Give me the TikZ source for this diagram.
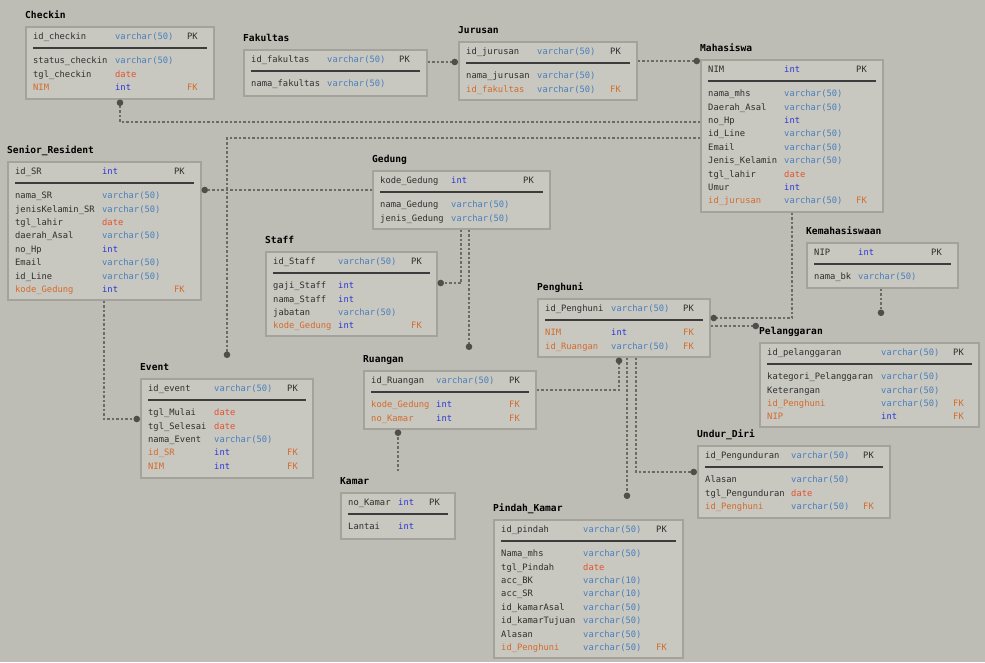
\documentclass[tikz,border=0pt]{standalone}
\usepackage{fontspec}
\setmonofont{DejaVu Sans Mono}
\usetikzlibrary{positioning, calc, arrows.meta}

\definecolor{bgcol}{HTML}{BDBDB5}
\definecolor{boxfill}{HTML}{C8C8C0}
\definecolor{boxline}{HTML}{A3A39C}
\definecolor{textdark}{HTML}{2E2E2E}
\definecolor{sepcol}{HTML}{3C3C3C}
\definecolor{vcol}{HTML}{4A7EBB}
\definecolor{icol}{HTML}{2A35D6}
\definecolor{dcol}{HTML}{E4502D}
\definecolor{fkcol}{HTML}{D46A2C}
\definecolor{linecol}{HTML}{6A6A66}
\definecolor{dotcol}{HTML}{4E4E4B}

\newcommand{\tvar}[1]{\textcolor{vcol}{varchar(#1)}}
\newcommand{\tint}{\textcolor{icol}{int}}
\newcommand{\tdate}{\textcolor{dcol}{date}}
\newcommand{\tfk}[1]{\textcolor{fkcol}{#1}}

\tikzset{
    tbl/.style={draw=boxline, line width=1.5pt, fill=boxfill, anchor=north west, inner sep=0pt},
    ttl/.style={anchor=west, inner sep=0pt, text height=7pt, text depth=2pt, text=black,
        font=\ttfamily\bfseries\fontsize{9.6}{11}\selectfont},
    fld/.style={anchor=west, inner sep=0pt, text height=6pt, text depth=1.5pt, text=textdark,
        font=\ttfamily\fontsize{8.8}{10}\selectfont},
    sepline/.style={draw=sepcol, line width=1.4pt},
    rel/.style={draw=linecol, line width=1.1pt, dash pattern=on 2.5pt off 2pt,
        -{Circle[length=6.5pt, fill=dotcol, color=dotcol]}}
}

% name, x, y, width, height, title, type column, key column, rows
\newcommand{\ertable}[9]{%
    \node[tbl, minimum width=#4pt, minimum height=#5pt] (#1) at (#2,#3) {};
    \node[ttl] (#1-title) at (#2,#3-10) {#6};
    \draw[sepline] ($(#1.north west)+(8,22)$) -- ($(#1.north east)+(-8,22)$);
    \foreach \nm/\ty/\ky [count=\i from 0] in {#9} {
        \pgfmathsetmacro\ry{#3+11.5+13.4*\i+10.5*(\i>0)}
        \node[fld] (#1-\i) at (#2+8,\ry) {\nm};
        \node[fld] (#1-\i-t) at (#2+#7,\ry) {\ty};
        \node[fld] (#1-\i-k) at (#2+#8,\ry) {\ky};
    }
}

\begin{document}
\begin{tikzpicture}[x=1pt, y=-1pt]
    \useasboundingbox (0,0) rectangle (985,662);
    \fill[bgcol] (0,0) rectangle (985,662);

    \ertable{checkin}{25}{26}{188}{72}{Checkin}{90}{162}{%
        id\_checkin/\tvar{50}/PK, status\_checkin/\tvar{50}/{}, tgl\_checkin/\tdate/{},
        \tfk{NIM}/\tint/\tfk{FK}}
    \ertable{fakultas}{243}{49}{183}{46}{Fakultas}{84}{156}{%
        id\_fakultas/\tvar{50}/PK, nama\_fakultas/\tvar{50}/{}}
    \ertable{jurusan}{458}{41}{178}{58}{Jurusan}{79}{152}{%
        id\_jurusan/\tvar{50}/PK, nama\_jurusan/\tvar{50}/{}, \tfk{id\_fakultas}/\tvar{50}/\tfk{FK}}
    \ertable{mahasiswa}{700}{59}{182}{152}{Mahasiswa}{84}{156}{%
        NIM/\tint/PK, nama\_mhs/\tvar{50}/{}, Daerah\_Asal/\tvar{50}/{}, no\_Hp/\tint/{},
        id\_Line/\tvar{50}/{}, Email/\tvar{50}/{}, Jenis\_Kelamin/\tvar{50}/{},
        tgl\_lahir/\tdate/{}, Umur/\tint/{}, \tfk{id\_jurusan}/\tvar{50}/\tfk{FK}}
    \ertable{sr}{7}{161}{193}{138}{Senior\_Resident}{95}{167}{%
        id\_SR/\tint/PK, nama\_SR/\tvar{50}/{}, jenisKelamin\_SR/\tvar{50}/{},
        tgl\_lahir/\tdate/{}, daerah\_Asal/\tvar{50}/{}, no\_Hp/\tint/{}, Email/\tvar{50}/{},
        id\_Line/\tvar{50}/{}, \tfk{kode\_Gedung}/\tint/\tfk{FK}}
    \ertable{gedung}{372}{170}{177}{58}{Gedung}{79}{151}{%
        kode\_Gedung/\tint/PK, nama\_Gedung/\tvar{50}/{}, jenis\_Gedung/\tvar{50}/{}}
    \ertable{staff}{265}{251}{171}{84}{Staff}{73}{146}{%
        id\_Staff/\tvar{50}/PK, gaji\_Staff/\tint/{}, nama\_Staff/\tint/{},
        jabatan/\tvar{50}/{}, \tfk{kode\_Gedung}/\tint/\tfk{FK}}
    \ertable{kemahasiswaan}{806}{242}{151}{45}{Kemahasiswaan}{52}{125}{%
        NIP/\tint/PK, nama\_bk/\tvar{50}/{}}
    \ertable{penghuni}{537}{298}{172}{58}{Penghuni}{74}{146}{%
        id\_Penghuni/\tvar{50}/PK, \tfk{NIM}/\tint/\tfk{FK}, \tfk{id\_Ruangan}/\tvar{50}/\tfk{FK}}
    \ertable{pelanggaran}{759}{342}{219}{84}{Pelanggaran}{122}{194}{%
        id\_pelanggaran/\tvar{50}/PK, kategori\_Pelanggaran/\tvar{50}/{},
        Keterangan/\tvar{50}/{}, \tfk{id\_Penghuni}/\tvar{50}/\tfk{FK}, \tfk{NIP}/\tint/\tfk{FK}}
    \ertable{event}{140}{378}{172}{99}{Event}{74}{147}{%
        id\_event/\tvar{50}/PK, tgl\_Mulai/\tdate/{}, tgl\_Selesai/\tdate/{},
        nama\_Event/\tvar{50}/{}, \tfk{id\_SR}/\tint/\tfk{FK}, \tfk{NIM}/\tint/\tfk{FK}}
    \ertable{ruangan}{363}{370}{172}{58}{Ruangan}{73}{146}{%
        id\_Ruangan/\tvar{50}/PK, \tfk{kode\_Gedung}/\tint/\tfk{FK}, \tfk{no\_Kamar}/\tint/\tfk{FK}}
    \ertable{kamar}{340}{492}{114}{46}{Kamar}{58}{89}{%
        no\_Kamar/\tint/PK, Lantai/\tint/{}}
    \ertable{undurdiri}{697}{445}{192}{72}{Undur\_Diri}{94}{166}{%
        id\_Pengunduran/\tvar{50}/PK, Alasan/\tvar{50}/{}, tgl\_Pengunduran/\tdate/{},
        \tfk{id\_Penghuni}/\tvar{50}/\tfk{FK}}
    \ertable{pindahkamar}{493}{519}{189}{138}{Pindah\_Kamar}{90}{163}{%
        id\_pindah/\tvar{50}/PK, Nama\_mhs/\tvar{50}/{}, tgl\_Pindah/\tdate/{},
        acc\_BK/\tvar{10}/{}, acc\_SR/\tvar{10}/{}, id\_kamarAsal/\tvar{50}/{},
        id\_kamarTujuan/\tvar{50}/{}, Alasan/\tvar{50}/{}, \tfk{id\_Penghuni}/\tvar{50}/\tfk{FK}}

    % relations
    \draw[rel] ($(fakultas.north east)+(0,13)$) -- ($(jurusan.north west)+(0,21)$);
    \draw[rel] ($(jurusan.north east)+(0,20)$) -- ($(mahasiswa.north west)+(0,2)$);
    \draw[rel] ($(mahasiswa.north west)+(0,63)$) -| ($(checkin.south west)+(95,0)$);
    \draw[rel] ($(mahasiswa.north west)+(0,79)$) -| ($(event.north west)+(87,-20)$);
    \draw[rel] ($(gedung.north west)+(0,20)$) -- ($(sr.north east)+(0,29)$);
    \draw[rel] ($(sr.south west)+(97,0)$) |- ($(event.north west)+(0,41)$);
    \draw[rel] ($(gedung.south west)+(89,0)$) |- ($(staff.north east)+(0,32)$);
    \draw[rel] ($(gedung.south west)+(97,0)$) -- ($(ruangan.north west)+(106,-20)$);
    \draw[rel] ($(mahasiswa.south west)+(92,0)$) |- ($(penghuni.north east)+(0,20)$);
    \draw[rel] ($(penghuni.north east)+(0,28)$) -- ($(pelanggaran.north west)+(0,-16)$);
    \draw[rel] ($(kemahasiswaan.south west)+(75,0)$) -- ($(pelanggaran.north west)+(122,-26)$);
    \draw[rel] ($(ruangan.north east)+(0,20)$) -| ($(penghuni.south west)+(82,0)$);
    \draw[rel] ($(penghuni.south west)+(99,0)$) |- ($(undurdiri.north west)+(0,27)$);
    \draw[rel] ($(penghuni.south west)+(90,0)$) -- ($(pindahkamar.north west)+(134,-20)$);
    \draw[rel] ($(kamar.north west)+(58,-21)$) -- ($(ruangan.south west)+(35,0)$);
\end{tikzpicture}
\end{document}
